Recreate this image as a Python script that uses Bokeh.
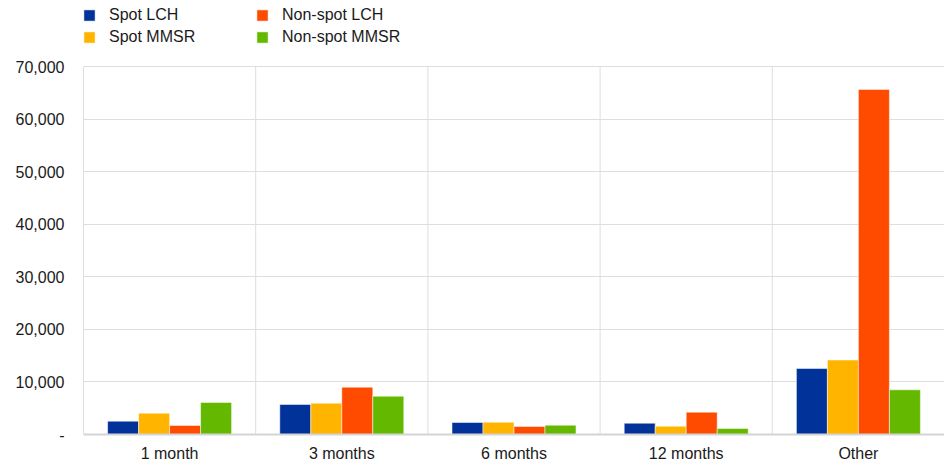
from bokeh.plotting import figure
from bokeh.models import (ColumnDataSource, FixedTicker, Legend, LegendItem,
                          NumeralTickFormatter, Range1d)
from bokeh.transform import dodge
from bokeh.embed import file_html
from bokeh.resources import INLINE

categories = ["1 month", "3 months", "6 months", "12 months", "Other"]
series_names = ["Spot LCH", "Spot MMSR", "Non-spot LCH", "Non-spot MMSR"]
spot_lch = [2530, 5710, 2280, 2150, 12550]
spot_mmsr = [4050, 5950, 2340, 1580, 14170]
nonspot_lch = [1710, 9000, 1520, 4240, 65630]
nonspot_mmsr = [6090, 7290, 1770, 1140, 8500]
y_ticks = [0, 10000, 20000, 30000, 40000, 50000, 60000, 70000]
y_max = 70000
group_edges = [0.5, 1.5, 2.5, 3.5]

colors = ["#003299", "#FFB400", "#FF4B00", "#65B800"]
offsets = [-0.27, -0.09, 0.09, 0.27]
FONT = "Liberation Sans"
GRID = "#dedede"

W, H = 944, 465
BOTTOM = 31          # space for x labels
TOP_GAP = 66         # legend area above the 70,000 line
frame_h = H - BOTTOM
y_end = y_max * frame_h / (frame_h - TOP_GAP)

src = ColumnDataSource(dict(
    x=list(range(len(categories))),
    s0=spot_lch, s1=spot_mmsr, s2=nonspot_lch, s3=nonspot_mmsr,
))

p = figure(width=W, height=H, output_backend="svg", toolbar_location=None,
           x_range=Range1d(-0.5, len(categories) - 0.5),
           y_range=Range1d(0, y_end),
           min_border_left=83, min_border_right=0, min_border_top=0,
           min_border_bottom=BOTTOM)
p.outline_line_color = None
p.background_fill_color = "white"

# vertical separators between categories (stop at the top gridline)
p.segment(x0=group_edges, y0=[0] * len(group_edges), x1=group_edges,
          y1=[y_max] * len(group_edges), line_color=GRID, line_width=1)

renderers = []
for i, col in enumerate(["s0", "s1", "s2", "s3"]):
    r = p.vbar(x=dodge("x", offsets[i], range=p.x_range), top=col, width=0.18,
               source=src, fill_color=colors[i], line_color="white",
               line_width=0.5)
    renderers.append(r)

# axes
p.xaxis.ticker = FixedTicker(ticks=list(range(len(categories))))
p.xaxis.major_label_overrides = {i: c for i, c in enumerate(categories)}
p.xaxis.major_tick_line_color = None
p.xaxis.minor_tick_line_color = None
p.xaxis.major_tick_out = 0
p.xaxis.major_label_standoff = 10
p.xaxis.axis_line_color = "#d4d4d4"
p.xaxis.axis_line_width = 2
p.xaxis.major_label_text_font = FONT
p.xaxis.major_label_text_font_size = "16px"
p.xaxis.major_label_text_color = "#1a1a1a"

p.yaxis.ticker = FixedTicker(ticks=y_ticks)
p.yaxis.bounds = (0, y_max)
p.yaxis.formatter = NumeralTickFormatter(format="0,0")
p.yaxis.major_label_overrides = {0: "-"}
p.yaxis.major_tick_line_color = None
p.yaxis.minor_tick_line_color = None
p.yaxis.major_tick_out = 0
p.yaxis.major_label_standoff = 19
p.yaxis.axis_line_color = GRID
p.yaxis.major_label_text_font = FONT
p.yaxis.major_label_text_font_size = "16px"
p.yaxis.major_label_text_color = "#1a1a1a"

# grids
p.ygrid.ticker = FixedTicker(ticks=y_ticks)
p.ygrid.grid_line_color = GRID
p.xgrid.grid_line_color = None

order = [0, 2, 1, 3]
legend = Legend(items=[LegendItem(label=series_names[i], renderers=[renderers[i]])
                       for i in order],
                orientation="horizontal", ncols=2,
                location=(-1, frame_h - 46), glyph_width=14, glyph_height=14,
                label_standoff=13, label_width=143, spacing=3, padding=0,
                margin=0, border_line_color=None, background_fill_alpha=0,
                label_text_font=FONT, label_text_font_size="16px",
                label_text_color="#1a1a1a", label_height=19)
p.add_layout(legend, "center")

open("out.html", "w").write(file_html(p, INLINE))
